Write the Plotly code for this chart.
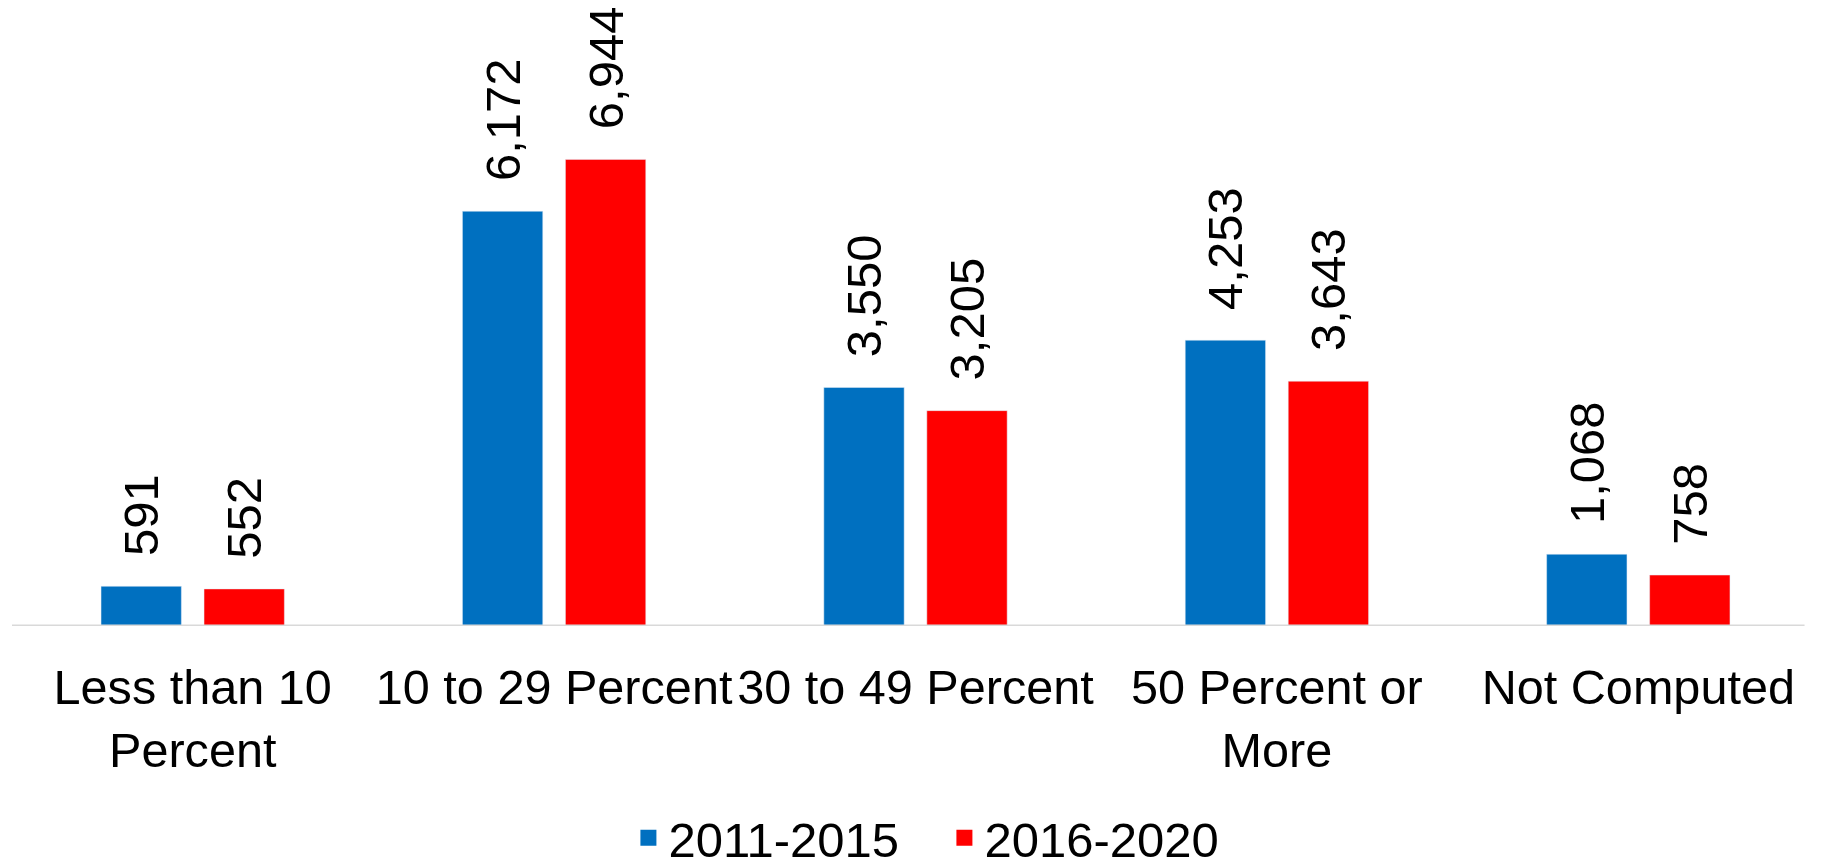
import plotly.graph_objects as go

categories = ["Less than 10<br>Percent", "10 to 29 Percent", "30 to 49 Percent",
              "50 Percent or<br>More", "Not Computed"]
series_names = ["2011-2015", "2016-2020"]
values_2011_2015 = [591, 6172, 3550, 4253, 1068]
values_2016_2020 = [552, 6944, 3205, 3643, 758]
colors = ["#0070C0", "#FF0000"]

FONT = "Liberation Sans, Arial, sans-serif"
FIG_H = 870

fig = go.Figure()
for name, vals, col in zip(series_names, [values_2011_2015, values_2016_2020], colors):
    fig.add_trace(go.Bar(
        x=categories, y=vals, name=name, marker_color=col,
        text=[f"\u00a0\u00a0{v:,}" for v in vals],
        textposition="outside", textangle=-90, constraintext="none",
        textfont=dict(family=FONT, size=49, color="black"),
        cliponaxis=False, showlegend=False, legendgroup=name,
    ))
# legend entries (square swatches)
for name, col in zip(series_names, colors):
    fig.add_trace(go.Scatter(
        x=[None], y=[None], mode="markers", name=name, legendgroup=name,
        marker=dict(symbol="square", size=26, color=col),
        showlegend=True,
    ))

# category axis baseline
fig.add_shape(type="line", xref="paper", yref="y", x0=0, x1=0.992, y0=0, y1=0,
              line=dict(color="#d9d9d9", width=3), layer="above")

fig.update_layout(
    width=1818, height=FIG_H,
    margin=dict(l=4, r=7, t=2, b=FIG_H - 618.5, autoexpand=False),
    paper_bgcolor="white", plot_bgcolor="white",
    barmode="group", bargap=0.43, bargroupgap=0.22,
    font=dict(family=FONT, size=48.6, color="black"),
    showlegend=True,
    legend=dict(orientation="h", x=0.516, xanchor="center",
                yref="container", y=(FIG_H - 830) / FIG_H, yanchor="middle",
                font=dict(family=FONT, size=49, color="black"),
                itemwidth=30, entrywidth=271, traceorder="normal"),
    xaxis=dict(showline=False, showgrid=False, zeroline=False,
               ticks="", ticklabelstandoff=28, tickfont=dict(family=FONT, size=48.6),
               automargin=False),
    yaxis=dict(range=[0, 9167], visible=False, showgrid=False, zeroline=False,
               automargin=False),
    uniformtext=dict(mode=False),
)

fig.write_html("out.html")
